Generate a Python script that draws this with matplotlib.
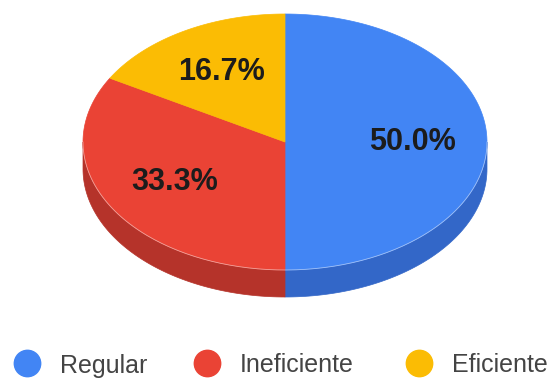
import numpy as np
import matplotlib.pyplot as plt
from matplotlib.patches import Polygon

plt.rcParams['font.family'] = ['Liberation Sans', 'DejaVu Sans']

# slice data
categories = ['Regular', 'Ineficiente', 'Eficiente']
values = [50.0, 33.3, 16.7]
top_colors = ['#4285F4', '#EA4335', '#FBBC04']
side_colors = ['#3367C8', '#B5332A', '#C79300']

W, H = 559, 379
fig = plt.figure(figsize=(W / 100, H / 100), dpi=100)
ax = fig.add_axes([0, 0, 1, 1])
ax.set_xlim(0, W)
ax.set_ylim(H, 0)
ax.axis('off')

# ellipse geometry (pixels), angles measured clockwise from 12 o'clock
cx, cy, rx, ry, depth = 285, 142, 202, 128, 27


def edge(theta):
    return cx + rx * np.sin(theta), cy - ry * np.cos(theta)


fracs = np.array(values) / sum(values)
bounds = np.concatenate([[0], np.cumsum(fracs)]) * 2 * np.pi

# side walls: only the front half (90..270 deg) is visible
for i in range(len(values)):
    a0 = max(bounds[i], np.pi / 2)
    a1 = min(bounds[i + 1], 3 * np.pi / 2)
    if a1 <= a0:
        continue
    t = np.linspace(a0, a1, 80)
    xs, ys = edge(t)
    pts = np.column_stack([np.concatenate([xs, xs[::-1]]),
                           np.concatenate([ys, ys[::-1] + depth])])
    ax.add_patch(Polygon(pts, closed=True, facecolor=side_colors[i],
                         edgecolor=side_colors[i], lw=0.5, zorder=1))

# top face
for i in range(len(values)):
    t = np.linspace(bounds[i], bounds[i + 1], 120)
    xs, ys = edge(t)
    pts = np.column_stack([np.concatenate([[cx], xs]), np.concatenate([[cy], ys])])
    ax.add_patch(Polygon(pts, closed=True, facecolor=top_colors[i],
                         edgecolor=top_colors[i], lw=0.5, zorder=2))

# thin highlight along the front rim
t = np.linspace(np.pi / 2, 3 * np.pi / 2, 200)
xs, ys = edge(t)
ax.plot(xs, ys, color='white', lw=0.6, alpha=0.5, zorder=3)

# percentage labels
for i, v in enumerate(values):
    mid = (bounds[i] + bounds[i + 1]) / 2
    lx = cx + 0.63 * rx * np.sin(mid)
    ly = cy - 0.63 * ry * np.cos(mid)
    ax.text(lx, ly, f'{v:.1f}%', ha='center', va='center', fontsize=22,
            fontweight='bold', color='#1c1c1c', zorder=4)

# legend row along the bottom
legend_x = [27, 207, 419]
legend_y = 363
for x, name, c in zip(legend_x, categories, top_colors):
    ax.scatter([x], [legend_y], s=19 ** 2, color=c, zorder=4, clip_on=False)
    ax.text(x + 33, legend_y, name, ha='left', va='center_baseline',
            fontsize=18, color='#444444')

fig.savefig('out.png', dpi=100)
